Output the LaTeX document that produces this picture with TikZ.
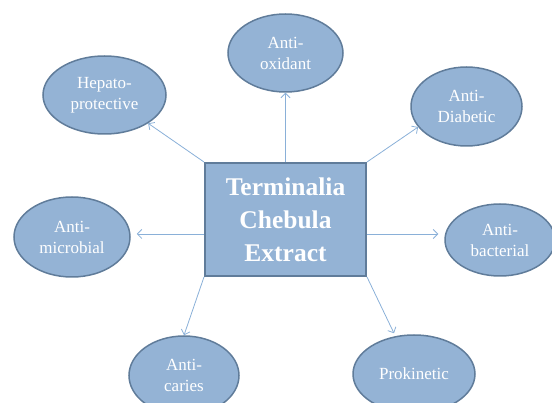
\documentclass[tikz,border=0pt]{standalone}
\usepackage{fontspec}
\setmainfont{Liberation Serif}
\usetikzlibrary{shapes.geometric,arrows.meta}
\definecolor{effectfill}{RGB}{148,179,213}
\definecolor{effectline}{RGB}{96,124,154}
\definecolor{linkcol}{RGB}{138,176,216}
\begin{document}
\begin{tikzpicture}[x=1pt,y=-1pt,
        effect/.style={ellipse,draw=effectline,line width=1.5pt,fill=effectfill,text=white,
            inner sep=0pt,minimum width=116pt,minimum height=78pt,align=center,
            font=\fontsize{17}{21}\selectfont},
        link/.style={-{Straight Barb[length=4.5pt,width=9pt]},draw=linkcol,line width=0.8pt}]

                \useasboundingbox (0,0) rectangle (552,403);

                \node [draw=effectline,line width=2pt,fill=effectfill,text=white,inner sep=0pt,
                    minimum width=161pt,minimum height=113pt,align=center,
                    font=\fontsize{25.5}{33}\selectfont\bfseries] (extract) at (285.5,219.5) {Terminalia\\Chebula\\Extract};

                \node [effect,minimum width=115pt] (oxidant) at (285.5,53) {Anti-\\oxidant};
                \node [effect,minimum width=123pt] (hepato) at (104.5,95) {Hepato-\\protective};
                \node [effect,minimum width=111pt,minimum height=79pt] (diabetic) at (466.5,106.5) {Anti-\\Diabetic};
                \node [effect,minimum height=80pt] (microbial) at (72,237) {Anti-\\microbial};
                \node [effect,minimum width=110pt,minimum height=72pt] (bacterial) at (500,240) {Anti-\\bacterial};
                \node [effect,minimum width=110pt,minimum height=79pt] (caries) at (184,375.5) {Anti-\\caries};
                \node [effect,minimum width=122pt] (proki) at (414,374) {Prokinetic};

                \draw [link] (extract.north) -- (oxidant.south);
                \draw [link] (extract.north west) -- (hepato.327);
                \draw [link] (extract.north east) -- (diabetic.203);
                \draw [link] ([yshift=-14.5pt]extract.west) -- ([xshift=6pt,yshift=3pt]microbial.east);
                \draw [link] ([yshift=-14.5pt]extract.east) -- ([xshift=-6pt,yshift=6pt]bacterial.west);
                \draw [link] (extract.south west) -- (caries.north);
                \draw [link] (extract.south east) -- ([xshift=-20pt,yshift=1pt]proki.north);
\end{tikzpicture}
\end{document}
